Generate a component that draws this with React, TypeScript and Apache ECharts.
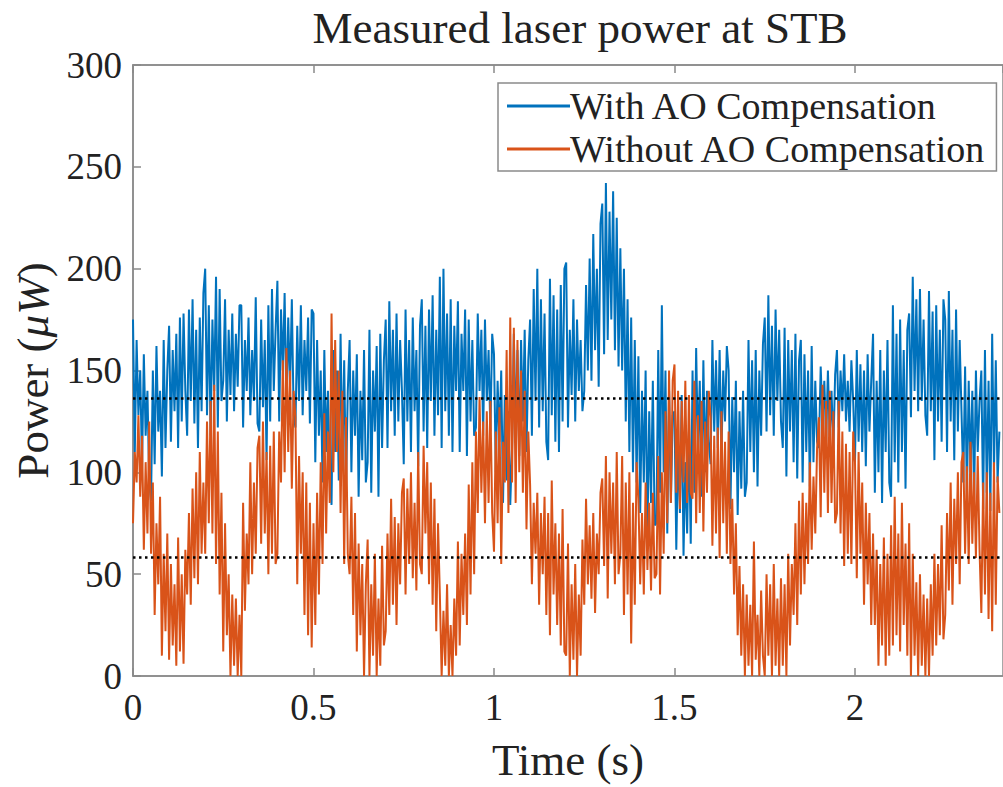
import React, { useEffect, useRef } from "react";
import * as echarts from "echarts";

const DT = 0.005;
const TITLE = "Measured laser power at STB";
const X_NAME = "Time (s)";
const LEGEND_WITH = "With AO Compensation";
const LEGEND_WITHOUT = "Without AO Compensation";
const MEAN_WITH = 136.5;
const MEAN_WITHOUT = 58.3;

// sampled every 5 ms, one row per 50 ms
const WITH_AO = [
  175, 110, 165, 128, 150, 102, 158, 118, 140, 95,
  86, 150, 104, 162, 120, 140, 98, 165, 112, 150,
  172, 115, 160, 130, 168, 112, 176, 125, 178, 140,
  118, 180, 135, 185, 124, 170, 112, 176, 130, 188,
  200, 128, 182, 118, 175, 140, 196, 122, 190, 135,
  145, 185, 125, 170, 138, 178, 130, 168, 142, 182,
  182, 122, 165, 140, 176, 128, 160, 135, 186, 124,
  120, 175, 132, 165, 106, 182, 125, 190, 140, 170,
  194, 125, 180, 150, 188, 132, 176, 142, 185, 128,
  122, 172, 135, 182, 128, 165, 140, 176, 124, 180,
  178, 105, 165, 118, 150, 95, 160, 110, 140, 100,
  84, 160, 110, 150, 96, 168, 105, 155, 92, 140,
  165, 100, 150, 118, 158, 88, 140, 106, 160, 95,
  105, 170, 90, 150, 120, 162, 88, 168, 112, 155,
  175, 112, 184, 130, 170, 118, 178, 125, 165, 140,
  104, 180, 125, 165, 110, 176, 130, 160, 103, 172,
  185, 120, 172, 112, 180, 135, 187, 118, 170, 128,
  196, 112, 200, 130, 178, 118, 185, 110, 172, 140,
  184, 110, 168, 140, 180, 108, 175, 125, 165, 118,
  122, 178, 140, 170, 118, 175, 135, 160, 120, 168,
  158, 100, 145, 115, 150, 85, 138, 96, 130, 84,
  112, 168, 120, 160, 108, 165, 125, 170, 110, 155,
  175, 118, 190, 135, 200, 122, 185, 130, 178, 115,
  106, 195, 128, 187, 115, 180, 110, 192, 125, 200,
  203, 122, 170, 138, 185, 125, 175, 140, 165, 130,
  140, 192, 150, 205, 145, 217, 160, 200, 142, 222,
  232, 158, 242, 165, 228, 175, 238, 160, 225, 152,
  210, 150, 200, 125, 185, 110, 176, 100, 165, 95,
  157, 80, 140, 95, 150, 68, 130, 85, 145, 74,
  75, 160, 90, 182, 100, 150, 70, 140, 85, 128,
  130, 62, 115, 80, 138, 59, 105, 70, 120, 65,
  150, 90, 161, 110, 145, 88, 155, 100, 140, 115,
  104, 165, 120, 155, 112, 160, 108, 150, 125, 162,
  150, 82, 137, 100, 145, 79, 130, 92, 140, 88,
  95, 165, 110, 155, 100, 160, 93, 150, 118, 163,
  176, 120, 187, 128, 172, 118, 180, 135, 170, 125,
  112, 171, 98, 165, 120, 160, 105, 168, 97, 155,
  165, 95, 158, 110, 150, 93, 162, 105, 145, 115,
  112, 152, 125, 145, 115, 150, 118, 140, 111, 148,
  160, 122, 150, 130, 158, 125, 145, 120, 155, 135,
  105, 160, 115, 153, 110, 150, 103, 158, 120, 145,
  168, 90, 145, 100, 160, 85, 150, 110, 165, 95,
  88, 182, 105, 168, 95, 175, 110, 160, 92, 170,
  178, 127, 196, 140, 185, 130, 190, 135, 175, 128,
  118, 189, 130, 179, 106, 182, 125, 170, 115, 185,
  175, 110, 189, 125, 170, 106, 180, 120, 165, 130,
  95, 152, 88, 145, 100, 140, 87, 150, 110, 135,
  150, 82, 160, 90, 145, 81, 168, 100, 155, 95,
  120,
];

const WITHOUT_AO = [
  75, 110, 95, 128, 88, 118, 62, 105, 70, 125,
  60, 95, 30, 75, 45, 88, 10, 60, 22, 70,
  8, 55, 15, 45, 5, 68, 12, 50, 6, 62,
  40, 80, 35, 92, 48, 100, 45, 110, 60, 95,
  60, 125, 75, 135, 70, 143, 55, 120, 40, 90,
  12, 75, 20, 50, 0, 40, 5, 38, 0, 30,
  0, 85, 32, 70, 45, 105, 50, 95, 60, 112,
  118, 65, 125, 70, 110, 50, 113, 60, 120, 55,
  60, 120, 95, 155, 100, 161, 110, 150, 92, 140,
  127, 45, 108, 60, 100, 30, 95, 20, 85, 14,
  75, 25, 90, 40, 105, 55, 129, 70, 120, 85,
  178, 100, 165, 110, 150, 80, 140, 55, 127, 60,
  50, 88, 30, 80, 12, 65, 20, 55, 0, 45,
  67, 0, 45, 10, 60, 0, 38, 5, 64, 15,
  22, 70, 30, 87, 35, 78, 25, 75, 45, 90,
  97, 40, 92, 55, 100, 48, 85, 42, 110, 55,
  50, 113, 70, 105, 45, 95, 35, 87, 22, 75,
  40, 0, 32, 5, 45, 0, 25, 0, 38, 10,
  66, 15, 60, 30, 70, 25, 94, 40, 105, 50,
  120, 80, 137, 90, 125, 75, 130, 85, 135, 80,
  61, 120, 75, 132, 55, 115, 95, 160, 80, 176,
  95, 171, 85, 165, 100, 150, 90, 140, 72, 120,
  94, 45, 85, 60, 90, 35, 80, 50, 88, 30,
  80, 20, 96, 40, 75, 25, 70, 15, 82, 12,
  10, 65, 0, 45, 8, 55, 0, 40, 10, 67,
  35, 87, 45, 74, 38, 80, 31, 70, 50, 90,
  97, 54, 108, 38, 100, 60, 95, 45, 110, 50,
  60, 108, 30, 95, 40, 100, 16, 85, 35, 105,
  87, 45, 80, 40, 95, 52, 85, 42, 90, 48,
  50, 108, 40, 100, 60, 130, 75, 150, 85, 145,
  153, 90, 140, 82, 135, 95, 145, 85, 138, 90,
  87, 145, 75, 128, 80, 135, 71, 125, 90, 140,
  127, 64, 118, 70, 122, 58, 130, 75, 115, 60,
  120, 55, 87, 40, 75, 20, 54, 10, 45, 0,
  40, 5, 35, 0, 66, 8, 30, 0, 42, 10,
  0, 50, 10, 45, 0, 55, 5, 38, 0, 48,
  5, 45, 0, 60, 15, 55, 30, 75, 25, 86,
  40, 90, 45, 85, 55, 105, 62, 98, 70, 112,
  127, 78, 143, 90, 135, 80, 140, 85, 130, 75,
  80, 135, 70, 120, 54, 114, 60, 110, 55, 120,
  105, 48, 110, 60, 95, 35, 85, 45, 80, 25,
  70, 25, 62, 5, 55, 15, 68, 5, 60, 10,
  74, 15, 88, 20, 70, 12, 85, 25, 65, 10,
  75, 0, 60, 10, 46, 0, 50, 5, 40, 0,
  38, 0, 45, 10, 60, 15, 55, 20, 74, 18,
  30, 80, 42, 95, 35, 87, 55, 100, 45, 105,
  110, 60, 103, 55, 115, 65, 100, 58, 108, 62,
  31, 95, 40, 100, 28, 90, 22, 105, 35, 98,
  80,
];

const FONT = "Liberation Serif";
const TEXT_COLOR = "#222222";
const AXIS_COLOR = "#8a8a8a";
const X_MIN = 0;
const X_MAX = 2.41;
const X_STEP = 0.5;

function toPairs(values: number[]) {
  return values.map((v, i) => [Number((i * DT).toFixed(3)), v]);
}

export default function App() {
  const ref = useRef<HTMLDivElement>(null);

  useEffect(() => {
    if (!ref.current) return;
    const chart = echarts.init(ref.current, undefined, { renderer: "svg" });
    const axisLine = { show: true, lineStyle: { color: AXIS_COLOR, width: 1.5 } };
    const axisTick = { show: true, inside: true, length: 8, lineStyle: { color: AXIS_COLOR, width: 1.5 } };
    chart.setOption({
      animation: false,
      backgroundColor: "#ffffff",
      title: {
        text: TITLE,
        left: 575,
        top: 0,
        textAlign: "center",
        textStyle: { fontFamily: FONT, fontSize: 45, fontWeight: "normal", color: TEXT_COLOR },
      },
      legend: {
        orient: "vertical",
        left: 498,
        top: 83,
        padding: [4, 10, 3, 9],
        itemGap: 5,
        itemWidth: 63,
        itemHeight: 3,
        icon: "rect",
        borderColor: AXIS_COLOR,
        borderWidth: 1.5,
        backgroundColor: "#ffffff",
        data: [LEGEND_WITH, LEGEND_WITHOUT],
        textStyle: { fontFamily: FONT, fontSize: 38, color: TEXT_COLOR, padding: [0, 0, 0, -5] },
      },
      grid: {
        left: 133,
        top: 65,
        width: 873,
        height: 618,
        show: true,
        borderColor: AXIS_COLOR,
        borderWidth: 1.5,
        backgroundColor: "transparent",
      },
      xAxis: [
        {
          type: "value",
          position: "bottom",
          min: X_MIN,
          max: X_MAX,
          interval: X_STEP,
          name: X_NAME,
          nameLocation: "middle",
          nameGap: 61,
          nameTextStyle: { fontFamily: FONT, fontSize: 45, color: TEXT_COLOR },
          axisLine,
          axisTick,
          axisLabel: { fontFamily: FONT, fontSize: 37, color: TEXT_COLOR, margin: 13, showMaxLabel: false },
          splitLine: { show: false },
        },
        {
          type: "value",
          position: "top",
          min: X_MIN,
          max: X_MAX,
          interval: X_STEP,
          axisLine,
          axisTick,
          axisLabel: { show: false },
          splitLine: { show: false },
        },
      ],
      yAxis: {
        type: "value",
        min: 0,
        max: 300,
        interval: 50,
        name: "Power ({i|μW})",
        nameLocation: "middle",
        nameGap: 72,
        nameRotate: 90,
        nameTextStyle: {
          fontFamily: FONT,
          fontSize: 45,
          color: TEXT_COLOR,
          rich: { i: { fontFamily: FONT, fontSize: 45, fontStyle: "italic", color: TEXT_COLOR } },
        },
        axisLine,
        axisTick,
        axisLabel: { fontFamily: FONT, fontSize: 37, color: TEXT_COLOR, margin: 11 },
        splitLine: { show: false },
      },
      series: [
        {
          name: LEGEND_WITH,
          type: "line",
          xAxisIndex: 0,
          data: toPairs(WITH_AO),
          symbol: "none",
          lineStyle: { color: "#0072BD", width: 2 },
          itemStyle: { color: "#0072BD" },
          z: 2,
        },
        {
          name: LEGEND_WITHOUT,
          type: "line",
          xAxisIndex: 0,
          data: toPairs(WITHOUT_AO),
          symbol: "none",
          lineStyle: { color: "#D95319", width: 2 },
          itemStyle: { color: "#D95319" },
          z: 3,
        },
        {
          name: "means",
          type: "line",
          xAxisIndex: 0,
          data: [],
          z: 5,
          markLine: {
            silent: true,
            symbol: ["none", "none"],
            label: { show: false },
            lineStyle: { color: "#000000", width: 2.5, type: [2.5, 3.5] },
            data: [{ yAxis: MEAN_WITH }, { yAxis: MEAN_WITHOUT }],
          },
        },
      ],
    });
    return () => chart.dispose();
  }, []);

  return <div ref={ref} style={{ position: "fixed", left: 0, top: 0, width: 1003, height: 787 }} />;
}
